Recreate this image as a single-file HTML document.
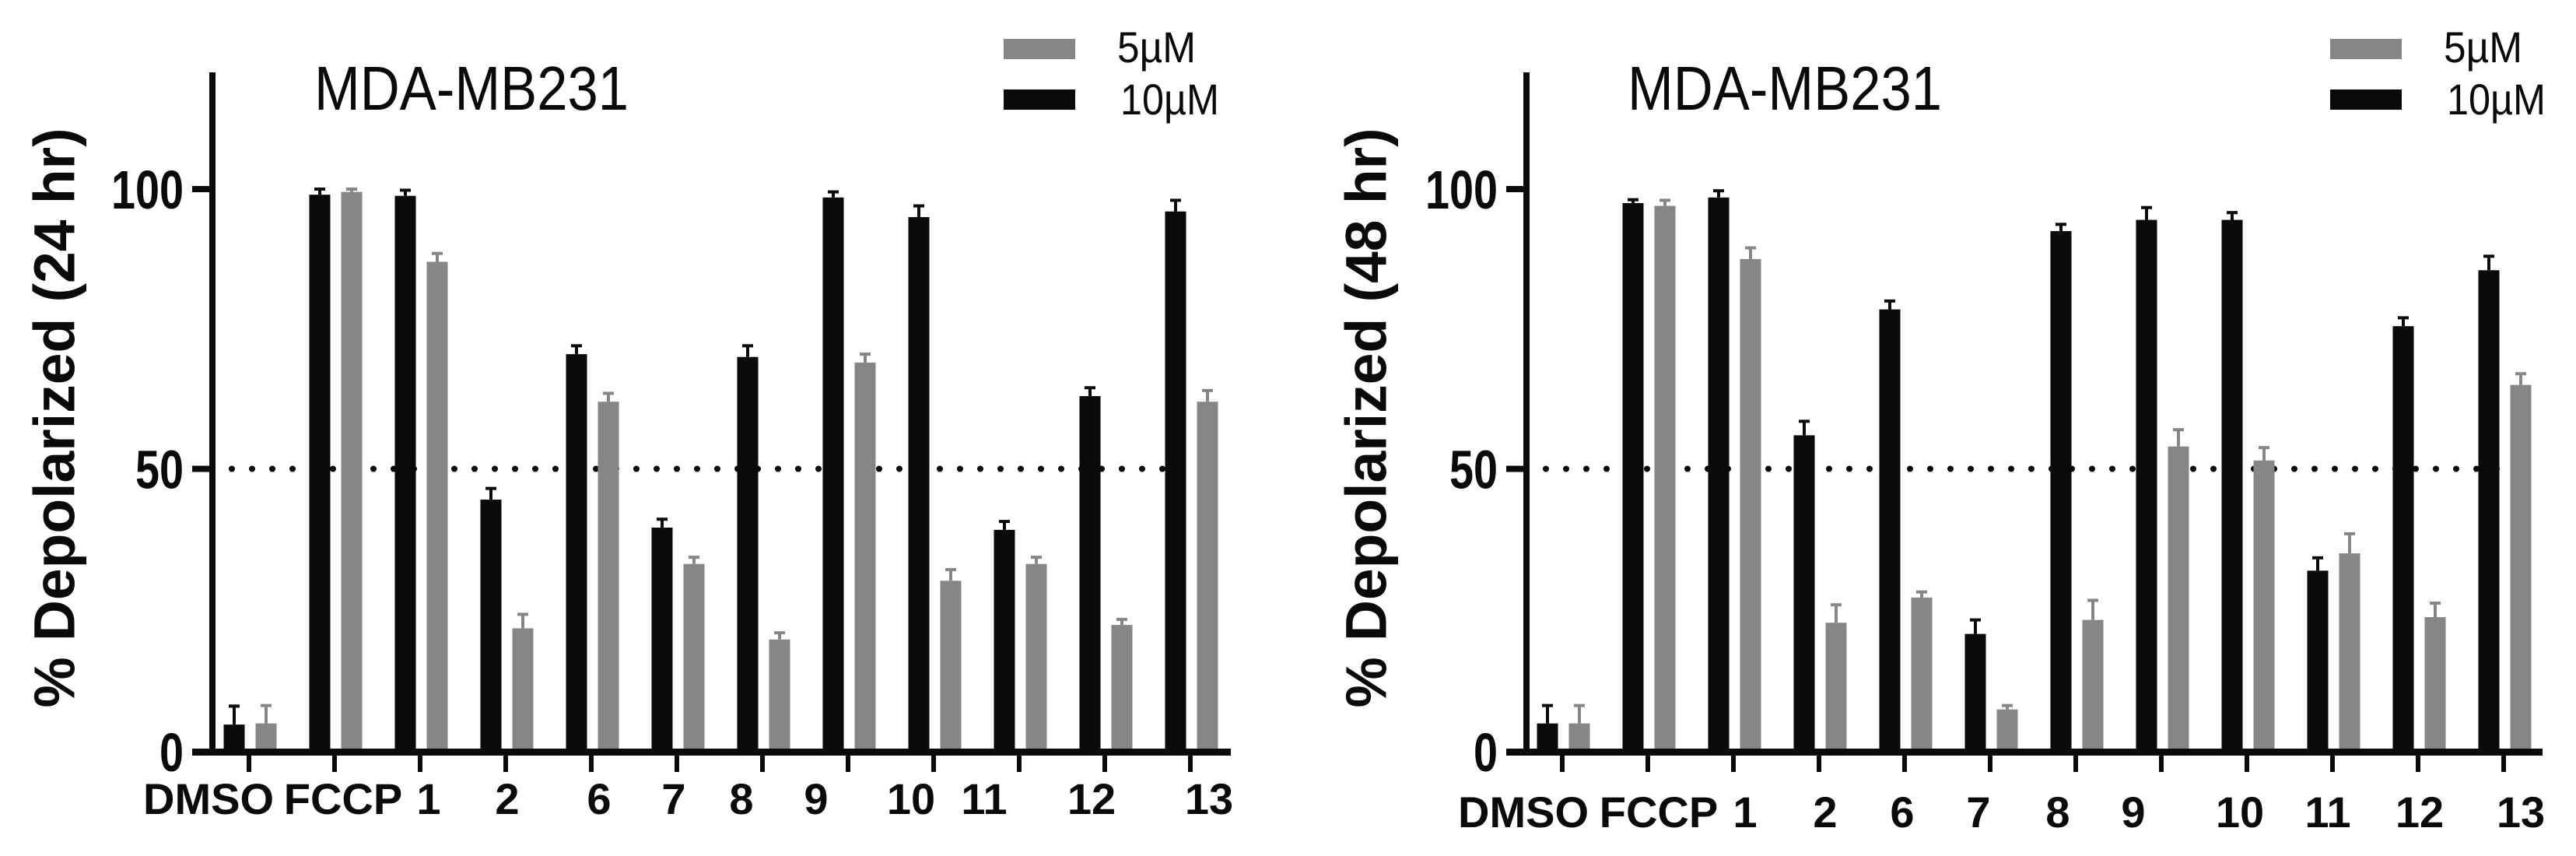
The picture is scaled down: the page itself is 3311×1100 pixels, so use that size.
<!DOCTYPE html>
<html><head><meta charset="utf-8">
<style>
html,body{margin:0;padding:0;background:#fff;}
svg{display:block;}
text{font-family:"Liberation Sans",Arial,sans-serif;}
</style></head>
<body>
<svg id="fig" width="3311" height="1100" viewBox="0 0 3311 1100" xmlns="http://www.w3.org/2000/svg"></svg>
<script>
const categories = ["DMSO","FCCP","1","2","6","7","8","9","10","11","12","13"];
const yTicks = [0,50,100];
const thresholdValue = 50;
const legendLabels = ["5µM","10µM"];
// 24 hr panel
const black24 = [4.3,99,98.8,44.5,70.5,39.5,70,98.5,95,39.1,63,96];
const blackErr24 = [3.3,1,1,2,1.5,1.5,2,1,2,1.5,1.5,2];
const gray24 = [4.5,99.5,87,21.5,62,33,19.5,69,30,33,22.1,62];
const grayErr24 = [3.2,0.5,1.5,2.5,1.5,1.2,1.2,1.5,2,1.2,1,2];
// 48 hr panel
const black48 = [4.5,97.5,98.5,56,78.5,20.5,92.5,94.5,94.5,31.8,75.5,85.5];
const blackErr48 = [3.2,0.6,1.2,2.5,1.5,2.5,1.2,2.2,1.3,2.3,1.5,2.5];
const gray48 = [4.5,97,87.5,22.5,27,7,23,54,51.5,34.9,23.5,65];
const grayErr48 = [3.2,1,2,3.2,1,0.7,3.5,3,2.3,3.5,2.5,2];

const NS="http://www.w3.org/2000/svg";
const svg=document.getElementById('fig');
function mk(tag,attrs,parent){const e=document.createElementNS(NS,tag);for(const k in attrs)e.setAttribute(k,attrs[k]);(parent||svg).appendChild(e);return e;}

function panel(cfg){
  const g=mk('g',{});
  
  
  const y0=962, y100=243;
  const yS=v=>y0-(v/100)*(y0-y100);
  const xS=i=>cfg.tick0+i*110;
  const dl=mk('line',{x1:cfg.dotStart,x2:xS(categories.length-1),y1:yS(thresholdValue),y2:yS(thresholdValue),stroke:'#0a0a0a','stroke-width':8,'stroke-linecap':'round','stroke-dasharray':'0 26'},g);
  
  
  categories.forEach((c,i)=>{
    [[cfg.black,cfg.blackErr,'#0a0a0a',-19,'10uM'],[cfg.gray,cfg.grayErr,'#868686',22,'5uM']].forEach(s=>{
      const v=s[0][i], e=s[1][i], cx=xS(i)+s[3];
      const top=yS(v);
      const ey=yS(v+e);
      const el=mk('line',{x1:cx,x2:cx,y1:top,y2:ey,stroke:s[2],'stroke-width':4},g);
      
      
      const cap=mk('line',{x1:cx-7,x2:cx+7,y1:ey,y2:ey,stroke:s[2],'stroke-width':4},g);
      
      
      const r=mk('rect',{x:cx-13.5,y:top,width:27,height:y0-top,fill:s[2]},g);
      
      
    });
    const t=mk('line',{x1:xS(i),x2:xS(i),y1:y0,y2:y0+30,stroke:'#0a0a0a','stroke-width':6},g);
    
    
    const lb=mk('text',{x:xS(i)+cfg.nudge[i],y:cfg.labelY,'text-anchor':'middle','font-size':56,'font-weight':'bold',fill:'#0a0a0a'},g);
    lb.textContent=c;
    
    
  });
  const xa=mk('line',{x1:cfg.axisX-26,x2:cfg.axisEnd,y1:y0+4.5,y2:y0+4.5,stroke:'#0a0a0a','stroke-width':9},g);
  
  
  const ya=mk('line',{x1:cfg.axisX,x2:cfg.axisX,y1:93,y2:y0+9,stroke:'#0a0a0a','stroke-width':8},g);
  
  
  yTicks.forEach(v=>{
    if(v>0){
      const tk=mk('line',{x1:cfg.axisX-26,x2:cfg.axisX,y1:yS(v),y2:yS(v),stroke:'#0a0a0a','stroke-width':8},g);
      
      
    }
    const s=String(v);
    const tl=mk('text',{x:cfg.axisX-37,y:yS(v)+(v===0?4:0)+25,'text-anchor':'end','font-size':70,'font-weight':'bold',fill:'#0a0a0a',textLength:s.length*31,lengthAdjust:'spacingAndGlyphs'},g);
    tl.textContent=s;
    
    
  });
  const yt=mk('text',{x:0,y:0,transform:`translate(${cfg.titleX},537) rotate(-90)`,'text-anchor':'middle','dominant-baseline':'central','font-size':74,'font-weight':'bold',fill:'#0a0a0a',textLength:745,lengthAdjust:'spacingAndGlyphs'},g);
  yt.textContent=cfg.yTitle;
  
  
  const ct=mk('text',{x:cfg.chartTitleX,y:141,'font-size':80,fill:'#0a0a0a',textLength:404,lengthAdjust:'spacingAndGlyphs'},g);
  ct.textContent='MDA-MB231';
  
  
  [['#868686',50,80,legendLabels[0],101],['#0a0a0a',115,147,legendLabels[1],127]].forEach((L,k)=>{
    const r=mk('rect',{x:cfg.legX,y:L[1],width:92,height:26,fill:L[0]},g);
    
    
    const t=mk('text',{x:cfg.legX+146+(k?4:0),y:L[2],'font-size':56,fill:'#0a0a0a',textLength:L[4],lengthAdjust:'spacingAndGlyphs'},g);
    t.textContent=L[3];
    
    
  });
}

panel({name:'panel-24hr',tick0:320,axisX:273,axisEnd:1582,dotStart:298,labelY:1046,titleX:70,chartTitleX:404,legX:1290,
  yTitle:'% Depolarized (24 hr)',black:black24,blackErr:blackErr24,gray:gray24,grayErr:grayErr24,
  nudge:[-52,11,11,2,10,-4,-27,-41,-29,-45,-17,24]});
panel({name:'panel-48hr',tick0:2008,axisX:1962,axisEnd:3268,dotStart:1987,labelY:1063,titleX:1756,chartTitleX:2092,legX:2995,
  yTitle:'% Depolarized (48 hr)',black:black48,blackErr:blackErr48,gray:gray48,grayErr:grayErr48,
  nudge:[-50,14,15,8,-3,-15,-23,-36,-9,-6,2,22]});
</script>
</body></html>
